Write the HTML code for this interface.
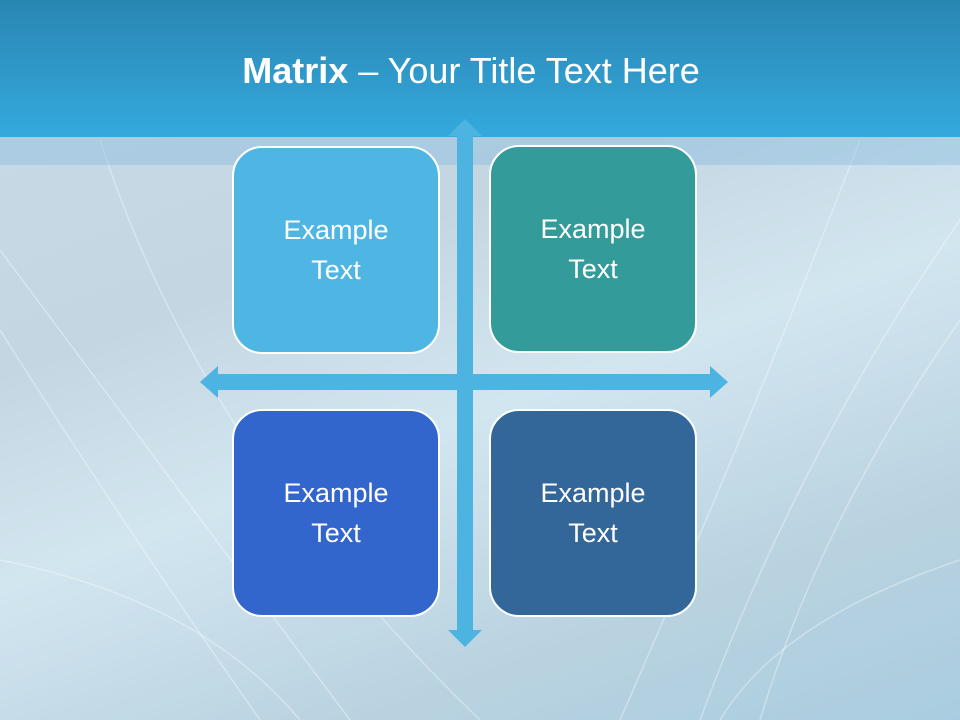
<!DOCTYPE html>
<html><head><style>
body{margin:0;width:960px;height:720px;overflow:hidden;font-family:"Liberation Sans",sans-serif;}
.bg{position:absolute;left:0;top:0;width:960px;height:720px;background:linear-gradient(160deg,#c9dbe6 0%,#c4d6e2 35%,#d2e6f0 55%,#b9d2e0 80%,#a9cde0 100%);}
.hdr{position:absolute;left:0;top:0;width:960px;height:137px;background:linear-gradient(#2a86b3,#34a9dd);}
.band{position:absolute;left:0;top:137px;width:960px;height:28px;background:rgba(130,185,222,0.4);}
.title{position:absolute;left:0;width:942px;top:50px;text-align:center;color:#fff;font-size:36px;}
.box{position:absolute;width:204px;height:204px;border:2px solid #fff;border-radius:30px;color:#fff;font-size:27px;text-align:center;display:flex;align-items:center;justify-content:center;line-height:40px;}
</style></head><body>
<div class="bg"></div>
<svg width="960" height="720" style="position:absolute;left:0;top:0">
<g fill="none" stroke="#fff" stroke-opacity="0.35" stroke-width="1.5">
<path d="M0 250 Q150 450 350 720"/><path d="M0 330 Q120 520 260 720"/><path d="M100 140 Q200 450 480 720"/>
<path d="M960 220 Q800 450 700 720"/><path d="M960 320 Q820 520 760 720"/><path d="M860 140 Q760 400 620 720"/>
<path d="M0 560 Q200 600 300 720"/><path d="M960 560 Q780 620 720 720"/>
</g>
</svg>
<div class="hdr"></div>
<div class="band"></div>
<div class="title"><b>Matrix</b> – Your Title Text Here</div>
<svg width="960" height="720" style="position:absolute;left:0;top:0">
<g fill="#4db4e2">
<rect x="457" y="134" width="16" height="500"/>
<polygon points="448,136 465,119 482,136"/>
<polygon points="448,630 465,647 482,630"/>
<rect x="216" y="374" width="496" height="16"/>
<polygon points="218,366 200,382 218,398"/>
<polygon points="710,366 728,382 710,398"/>
</g>
</svg>
<div class="box" style="left:232px;top:146px;background:#4fb6e3">Example<br>Text</div>
<div class="box" style="left:489px;top:145px;background:#339b9a">Example<br>Text</div>
<div class="box" style="left:232px;top:409px;background:#3266cc">Example<br>Text</div>
<div class="box" style="left:489px;top:409px;background:#336699">Example<br>Text</div>
</body></html>
